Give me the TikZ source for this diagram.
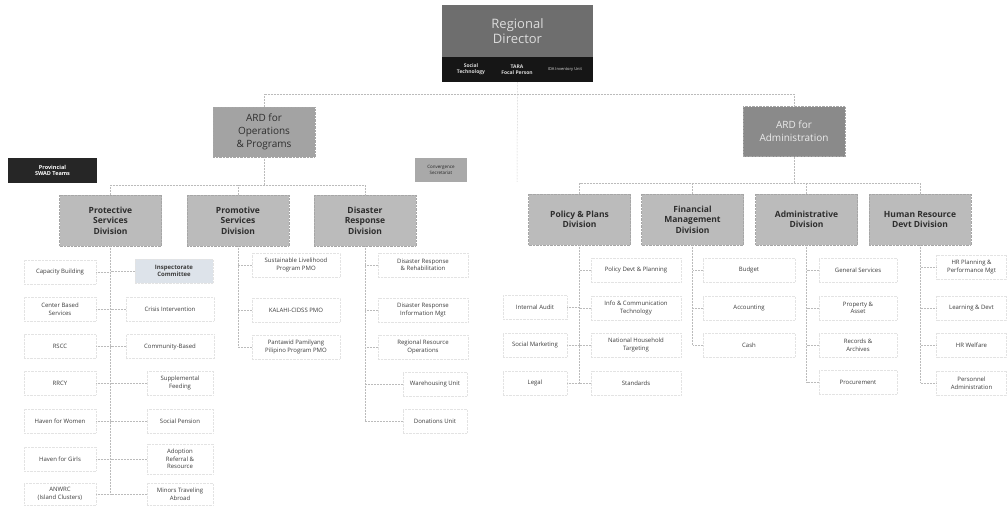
\documentclass[tikz,border=0pt]{standalone}
\usepackage{fontspec}
\setmainfont{Open Sans}
\definecolor{rdgray}{HTML}{6E6E6E}
\definecolor{rdtext}{HTML}{DCDCDC}
\definecolor{bandc}{HTML}{161616}
\definecolor{ardops}{HTML}{A3A3A3}
\definecolor{ardadm}{HTML}{8A8A8A}
\definecolor{divgray}{HTML}{BBBBBB}
\definecolor{divtext}{HTML}{2E2E2E}
\definecolor{leaftext}{HTML}{3C3C3C}
\definecolor{inspc}{HTML}{DDE3EA}
\definecolor{provc}{HTML}{262626}
\definecolor{convc}{HTML}{A9A9A9}
\definecolor{linec}{HTML}{BBBBBB}
\begin{document}
\begin{tikzpicture}[x=1pt,y=-1pt,
  base/.style={rectangle, inner sep=1pt, align=center, anchor=center},
  rdbox/.style={base, fill=rdgray, text=rdtext, minimum width=151pt, minimum height=52pt, font=\fontsize{13}{15}\selectfont},
  band/.style={base, fill=bandc, minimum width=151pt, minimum height=25pt},
  bandtxt/.style={base, text=rdtext, font=\bfseries\fontsize{5}{6}\selectfont},
  ard/.style={base, draw=gray!70, densely dotted, minimum width=102pt, minimum height=50pt, font=\fontsize{10}{13}\selectfont},
  divbox/.style={base, fill=divgray, draw=gray!70, densely dotted, text=divtext, minimum width=102pt, minimum height=51pt, font=\bfseries\fontsize{8.5}{10.5}\selectfont},
  leaf/.style={base, draw=gray!22, densely dotted, fill=white, text=leaftext, minimum height=24pt, font=\fontsize{6}{7.5}\selectfont},
  conn/.style={draw=linec, densely dotted, line width=0.5pt}
]
\useasboundingbox (0,0) rectangle (1007,506);
\fill[white] (0,0) rectangle (1007,506);

% top
\node[rdbox] (rd) at (517.5,31) {Regional\\Director};
\node[band] (rdband) at (517.5,69.5) {};
\node[bandtxt] (st) at (471,69.5) {Social\\Technology};
\node[bandtxt] (tara) at (517,69.5) {TARA\\Focal Person};
\node[bandtxt, font=\fontsize{4}{5}\selectfont] (ida) at (565,69.5) {IDA Inventory Unit};

\node[ard, fill=ardops, text=divtext] (ops) at (264,132) {ARD for\\Operations\\\& Programs};
\node[ard, fill=ardadm, text=white!92!black] (adm) at (794,131.5) {ARD for\\Administration};

\node[base, fill=provc, text=white, minimum width=89pt, minimum height=25pt, font=\bfseries\fontsize{5.5}{6.5}\selectfont] (prov) at (52.5,170.5) {Provincial\\SWAD Teams};
\node[base, fill=convc, text=gray!30!black, minimum width=52pt, minimum height=24pt, font=\fontsize{4.5}{5.5}\selectfont] (conv) at (441,170) {Convergence\\Secretariat};

% divisions
\node[divbox] (prot) at (110.5,220.5) {Protective\\Services\\Division};
\node[divbox] (prom) at (238,220.5) {Promotive\\Services\\Division};
\node[divbox] (dis) at (365,220.5) {Disaster\\Response\\Division};
\node[divbox] (pol) at (579.5,219.5) {Policy \& Plans\\Division};
\node[divbox] (fin) at (692.5,219.5) {Financial\\Management\\Division};
\node[divbox] (adv) at (806.5,219.5) {Administrative\\Division};
\node[divbox] (hr) at (920,219.5) {Human Resource\\Devt Division};

% protective children
\node[leaf, minimum width=72pt] (cb) at (60,272) {Capacity Building};
\node[leaf, minimum width=72pt] (cbs) at (60,309) {Center Based\\Services};
\node[leaf, minimum width=72pt] (rscc) at (60,346.5) {RSCC};
\node[leaf, minimum width=72pt] (rrcy) at (60,383) {RRCY};
\node[leaf, minimum width=72pt] (hw) at (60,421) {Haven for Women};
\node[leaf, minimum width=72pt] (hg) at (60,459) {Haven for Girls};
\node[leaf, minimum width=72pt, minimum height=22pt] (anwrc) at (60,494) {ANWRC\\(Island Clusters)};

\node[leaf, minimum width=78pt, fill=inspc, font=\bfseries\fontsize{6}{7.5}\selectfont] (insp) at (174,271) {Inspectorate\\Committee};
\node[leaf, minimum width=88pt] (ci) at (170,309) {Crisis Intervention};
\node[leaf, minimum width=88pt] (comm) at (170,346.5) {Community-Based};
\node[leaf, minimum width=66pt] (supp) at (180,383) {Supplemental\\Feeding};
\node[leaf, minimum width=66pt] (sp) at (180,421) {Social Pension};
\node[leaf, minimum width=66pt, minimum height=30pt] (adopt) at (180,459) {Adoption\\Referral \&\\Resource};
\node[leaf, minimum width=66pt, minimum height=22pt] (minors) at (180,494) {Minors Traveling\\Abroad};

% promotive children
\node[leaf, minimum width=88pt] (slp) at (296,265) {Sustainable Livelihood\\Program PMO};
\node[leaf, minimum width=88pt] (kalahi) at (296,310) {KALAHI-CIDSS PMO};
\node[leaf, minimum width=88pt] (pantawid) at (296,347) {Pantawid Pamilyang\\Pilipino Program PMO};

% disaster children
\node[leaf, minimum width=90pt] (drr) at (423,265) {Disaster Response\\\& Rehabilitation};
\node[leaf, minimum width=90pt] (drim) at (423,310) {Disaster Response\\Information Mgt};
\node[leaf, minimum width=90pt] (rro) at (423,347) {Regional Resource\\Operations};
\node[leaf, minimum width=64pt] (wh) at (435,384) {Warehousing Unit};
\node[leaf, minimum width=64pt] (don) at (435,421) {Donations Unit};

% policy children
\node[leaf, minimum width=64pt] (ia) at (535,307.5) {Internal Audit};
\node[leaf, minimum width=64pt] (sm) at (535,345) {Social Marketing};
\node[leaf, minimum width=64pt] (legal) at (535,383) {Legal};
\node[leaf, minimum width=90pt] (pdp) at (636,270) {Policy Devt \& Planning};
\node[leaf, minimum width=90pt] (ict) at (636,308) {Info \& Communication\\Technology};
\node[leaf, minimum width=90pt] (nht) at (636,345) {National Household\\Targeting};
\node[leaf, minimum width=90pt] (std) at (636,383) {Standards};

% financial children
\node[leaf, minimum width=92pt] (budget) at (749,270) {Budget};
\node[leaf, minimum width=92pt] (acct) at (749,308) {Accounting};
\node[leaf, minimum width=92pt] (cash) at (749,345) {Cash};

% administrative children
\node[leaf, minimum width=78pt] (gs) at (858,270) {General Services};
\node[leaf, minimum width=78pt] (pa) at (858,308) {Property \&\\Asset};
\node[leaf, minimum width=78pt] (ra) at (858,345) {Records \&\\Archives};
\node[leaf, minimum width=78pt] (proc) at (858,382) {Procurement};

% HR children
\node[leaf, minimum width=70pt] (hrp) at (971.5,267) {HR Planning \&\\Performance Mgt};
\node[leaf, minimum width=70pt] (ld) at (971.5,308) {Learning \& Devt};
\node[leaf, minimum width=70pt] (hrw) at (971.5,345) {HR Welfare};
\node[leaf, minimum width=70pt] (pers) at (971.5,383) {Personnel\\Administration};

% top connectors
\coordinate (jops) at (264,94);
\coordinate (jadm) at (794,94);
\coordinate (rdend) at (517,182);
\coordinate (opsbus) at (264,185);
\coordinate (admbus) at (794,183);
\draw[conn] (rdband.south) -- (rdend);
\draw[conn] (ops.north) -- (jops) -- (jadm) -- (adm.north);
\draw[conn] (ops.south) -- (opsbus);
\draw[conn] (prot.north) |- (opsbus) -| (dis.north);
\draw[conn] (prom.north) -- (prom.north |- opsbus);
\draw[conn] (adm.south) -- (admbus);
\draw[conn] (pol.north) |- (admbus) -| (hr.north);
\draw[conn] (fin.north) -- (fin.north |- admbus);
\draw[conn] (adv.north) -- (adv.north |- admbus);

% division spines
\draw[conn] (prot.south) -- (prot.south |- minors.west);
\foreach \n in {cb,cbs,rscc,rrcy,hw,hg,anwrc} \draw[conn] (\n.east) -- (\n.east -| prot.south);
\foreach \n in {insp,ci,comm,supp,sp,adopt,minors} \draw[conn] (\n.west) -- (\n.west -| prot.south);

\draw[conn] (prom.south) -- (prom.south |- pantawid.west);
\foreach \n in {slp,kalahi,pantawid} \draw[conn] (\n.west) -- (\n.west -| prom.south);

\draw[conn] (dis.south) -- (dis.south |- don.west);
\foreach \n in {drr,drim,rro,wh,don} \draw[conn] (\n.west) -- (\n.west -| dis.south);

\draw[conn] (pol.south) -- (pol.south |- std.west);
\foreach \n in {ia,sm,legal} \draw[conn] (\n.east) -- (\n.east -| pol.south);
\foreach \n in {pdp,ict,nht,std} \draw[conn] (\n.west) -- (\n.west -| pol.south);

\draw[conn] (fin.south) -- (fin.south |- cash.west);
\foreach \n in {budget,acct,cash} \draw[conn] (\n.west) -- (\n.west -| fin.south);

\draw[conn] (adv.south) -- (adv.south |- proc.west);
\foreach \n in {gs,pa,ra,proc} \draw[conn] (\n.west) -- (\n.west -| adv.south);

\draw[conn] (hr.south) -- (hr.south |- pers.west);
\foreach \n in {hrp,ld,hrw,pers} \draw[conn] (\n.west) -- (\n.west -| hr.south);
\end{tikzpicture}
\end{document}
